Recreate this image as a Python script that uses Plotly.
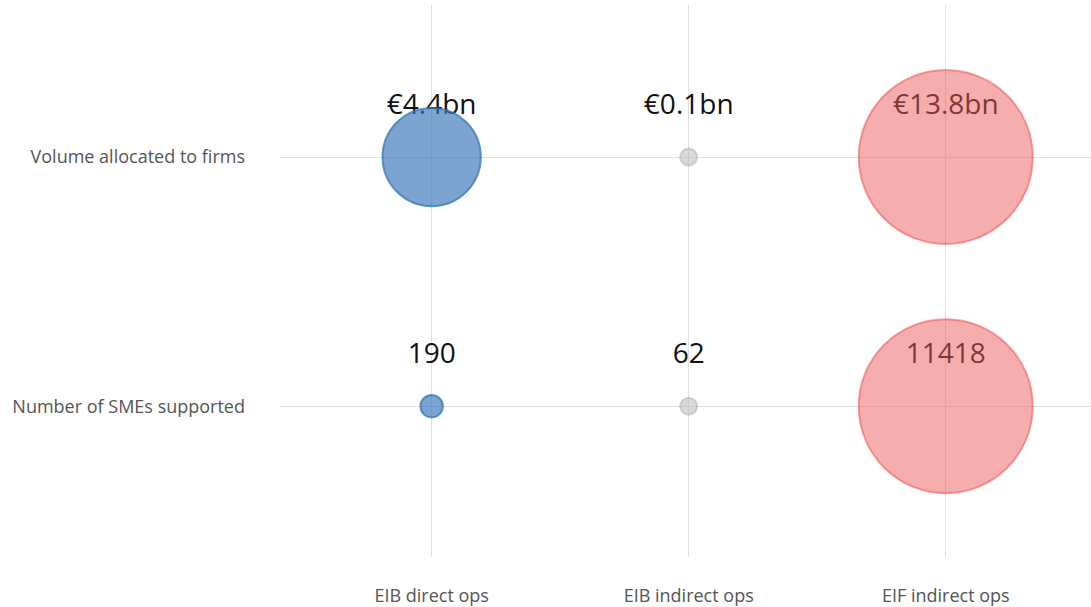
import plotly.graph_objects as go

columns = ["EIB direct ops", "EIB indirect ops", "EIF indirect ops"]
rows = ["Volume allocated to firms", "Number of SMEs supported"]
volume_bn = [4.4, 0.1, 13.8]
smes = [190, 62, 11418]
volume_labels = ["€4.4bn", "€0.1bn", "€13.8bn"]
sme_labels = ["190", "62", "11418"]

fills = ["rgba(52,117,183,0.65)", "rgba(180,180,180,0.5)", "rgba(238,92,92,0.5)"]
lines = ["rgba(52,117,183,0.75)", "rgba(170,170,170,0.45)", "rgba(238,92,92,0.6)"]

MAX_PX = 174
FONT = "Open Sans"

xpos = list(range(len(columns)))
row_y = {rows[0]: 1, rows[1]: 0}
LABEL_OFFSET = 0.2

fig = go.Figure()
series = [(rows[0], volume_bn, volume_labels), (rows[1], smes, sme_labels)]

for name, vals, labels in series:
    y = row_y[name]
    fig.add_trace(go.Scatter(
        x=xpos, y=[y + LABEL_OFFSET] * len(xpos), mode="text", text=labels,
        textposition="middle center",
        textfont=dict(family=FONT, size=28, color="#111"),
        hoverinfo="skip", showlegend=False))

for name, vals, labels in series:
    y = row_y[name]
    fig.add_trace(go.Scatter(
        x=xpos, y=[y] * len(xpos), mode="markers",
        marker=dict(size=vals, sizemode="area", sizeref=2 * max(vals) / MAX_PX ** 2,
                    sizemin=8.5, color=fills, opacity=1,
                    line=dict(color=lines, width=2)),
        showlegend=False, hovertext=labels, hoverinfo="text"))

fig.update_layout(
    width=1091, height=607,
    margin=dict(l=280, r=0, t=5, b=50),
    plot_bgcolor="white", paper_bgcolor="white",
    font=dict(family=FONT, color="#555"),
    xaxis=dict(range=[-0.59, 2.565], tickvals=xpos, ticktext=columns,
               showgrid=True, gridcolor="#e0e0e0", zeroline=False, showline=False,
               tickfont=dict(size=18, color="#555"), ticklabelstandoff=26),
    yaxis=dict(range=[-0.605, 1.61], tickvals=[row_y[r] for r in rows], ticktext=rows,
               showgrid=True, gridcolor="#e0e0e0", zeroline=False, showline=False,
               tickfont=dict(size=18, color="#555"), ticklabelstandoff=34),
)

fig.write_html("out.html", config={"displayModeBar": False},
               post_script="document.body.style.margin='0';")
